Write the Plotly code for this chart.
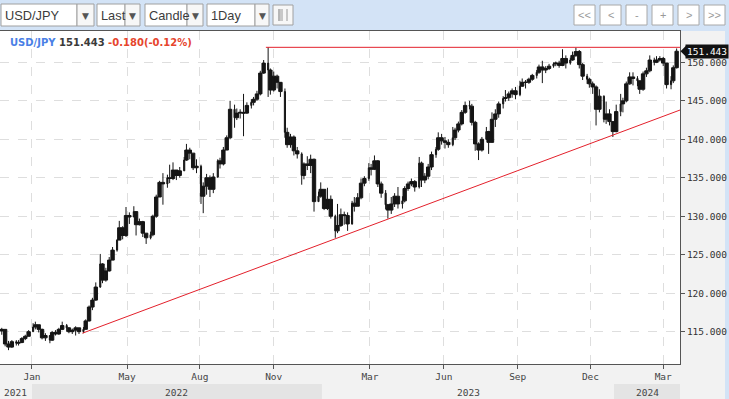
import pandas as pd
import plotly.graph_objects as go

# ---------------- data ----------------
start_date = "2021-11-25"          # first candle, one candle every 3 business days
first_open = 115.1
closes = [
    115.3, 113.4, 113.0, 113.7, 113.5, 113.6, 114.1, 114.4, 115.0,
    115.6, 115.9, 115.3, 114.2, 114.5, 113.9, 114.9,
    114.7, 115.3, 115.8, 115.5, 115.0, 115.2, 115.5,
    115.0, 115.3, 116.4, 118.2, 119.1, 120.8, 123.8,
    121.7, 122.9, 124.3, 125.6, 126.9, 128.5, 127.5,
    130.1, 129.9, 130.6, 128.9, 129.3, 127.8, 127.2, 127.6,
    130.0, 132.5, 134.4, 134.2, 135.0, 134.9, 136.0,
    135.3, 135.9, 137.3, 138.6, 138.2, 136.3, 136.5,
    132.6, 133.9, 135.0, 133.5, 135.1, 137.2, 136.8, 138.6,
    140.2, 143.9, 142.8, 143.4, 143.5, 143.4, 144.4,
    144.8, 145.2, 145.9, 148.6, 149.9, 149.0, 146.4,
    148.2, 147.4, 146.2, 140.9, 139.3, 140.3, 138.5, 138.1,
    135.3, 136.8, 136.6, 137.4, 131.9, 132.6, 133.5,
    131.0, 132.2, 130.0, 128.1, 128.8, 130.2, 130.1,
    129.0, 131.7, 131.3, 132.4, 134.3, 134.9, 136.3,
    136.1, 137.2, 134.2, 133.0, 131.5, 130.8, 131.6, 132.6,
    131.6, 132.0, 133.6, 134.2, 134.5, 133.8,
    136.9, 134.7, 135.2, 136.4, 138.0, 138.7, 140.2, 139.8,
    139.6, 139.3, 140.2, 141.2, 142.0, 143.5, 144.4,
    144.3, 142.2, 139.4, 138.6, 140.0, 141.0, 139.6,
    142.6, 143.3, 144.6, 145.3, 145.4, 145.9, 146.3, 145.8,
    146.9, 147.4, 147.4, 147.8, 148.3, 148.7, 149.4,
    149.0, 149.2, 149.5, 149.8, 149.9, 149.6, 150.5,
    149.9, 150.3, 150.9, 151.4, 149.7, 148.2, 147.8, 147.2,
    146.8, 143.9, 145.6, 142.6, 143.3, 142.3, 141.0,
    143.6, 144.6, 145.0, 147.2, 148.1, 147.9, 147.6,
    146.5, 148.5, 148.9, 150.3, 150.0, 150.3, 150.5,
    149.9, 147.1, 147.6, 149.3, 151.443,
]
highs = [
    115.5, 115.3, 113.8, 113.9, 113.9, 113.9, 114.3, 114.6, 115.2,
    116.1, 116.3, 115.9, 115.4, 114.8, 114.3, 115.1,
    115.2, 115.5, 116.3, 116.0, 115.6, 115.4, 115.7,
    115.5, 115.6, 116.6, 118.4, 119.4, 121.4, 125.1,
    123.9, 123.3, 124.7, 126.0, 127.0, 129.4, 128.7,
    131.2, 130.5, 131.3, 130.6, 129.7, 129.4, 127.8, 128.0,
    130.2, 132.8, 134.6, 135.6, 135.4, 136.7, 137.0,
    136.0, 136.4, 137.7, 139.4, 138.9, 138.2, 137.4,
    136.7, 134.4, 135.5, 135.3, 135.6, 137.4, 137.6, 139.0,
    140.5, 145.0, 144.5, 144.0, 143.9, 145.9, 144.8,
    145.2, 145.5, 146.3, 148.9, 150.3, 151.95, 149.2,
    148.8, 148.4, 147.3, 146.6, 141.5, 140.7, 140.5, 139.0,
    138.3, 137.0, 137.8, 138.0, 137.5, 133.2, 134.4,
    133.5, 133.7, 132.7, 130.2, 131.6, 131.0, 130.6,
    130.5, 132.0, 132.5, 133.0, 134.9, 135.2, 136.9,
    136.8, 137.9, 137.3, 134.5, 133.4, 131.6, 132.5, 133.0,
    133.8, 132.6, 133.9, 134.5, 134.9, 134.7,
    137.7, 137.1, 135.6, 136.8, 138.4, 139.0, 140.9, 140.7,
    140.3, 140.0, 141.6, 141.5, 142.3, 143.8, 144.9,
    145.0, 144.6, 142.4, 139.6, 140.3, 141.6, 141.1,
    143.5, 143.9, 144.9, 145.6, 146.4, 146.2, 146.6, 146.8,
    147.6, 147.9, 147.7, 148.0, 148.5, 149.0, 149.7,
    150.2, 149.5, 149.8, 150.0, 150.1, 150.2, 151.7,
    150.9, 150.6, 151.4, 151.9, 151.6, 149.9, 148.5, 148.0,
    147.5, 147.0, 146.5, 145.7, 144.9, 143.9, 142.3,
    144.5, 145.9, 145.4, 147.5, 148.7, 148.7, 148.2,
    147.3, 148.8, 149.3, 150.9, 150.6, 150.8, 150.8,
    150.7, 149.9, 148.2, 149.6, 151.8,
]
lows = [
    114.6, 113.1, 112.6, 112.9, 113.2, 113.2, 113.5, 113.9, 114.4,
    115.0, 115.3, 114.9, 114.0, 113.8, 113.5, 113.8,
    114.5, 114.6, 115.2, 115.0, 114.8, 114.7, 114.5,
    114.7, 114.8, 115.3, 116.3, 117.8, 119.0, 120.7,
    121.3, 121.5, 122.8, 124.3, 125.4, 126.9, 127.0,
    127.3, 129.0, 129.9, 127.5, 128.8, 127.3, 126.4, 127.0,
    127.4, 129.8, 132.5, 131.5, 133.7, 134.3, 134.7,
    134.7, 135.0, 135.9, 137.2, 137.4, 136.0, 135.6,
    131.6, 130.4, 132.8, 132.5, 133.0, 135.0, 136.2, 136.6,
    138.6, 140.0, 141.5, 142.5, 142.7, 140.4, 143.3,
    144.0, 144.4, 145.0, 145.7, 148.5, 145.5, 145.8,
    146.2, 146.6, 145.5, 140.2, 138.9, 138.9, 137.9, 137.5,
    134.1, 134.8, 136.0, 135.6, 130.6, 131.9, 132.4,
    130.8, 130.8, 129.7, 127.2, 127.8, 128.6, 128.9,
    128.1, 128.9, 130.6, 131.3, 132.2, 133.9, 134.6,
    135.3, 136.0, 133.8, 132.4, 130.9, 129.7, 130.3, 131.2,
    131.0, 131.0, 131.8, 133.3, 133.9, 133.2,
    133.6, 133.8, 134.3, 134.8, 136.0, 137.6, 138.5, 139.3,
    138.8, 138.9, 139.1, 139.9, 140.9, 141.8, 143.3,
    143.9, 141.8, 138.5, 137.3, 138.4, 139.9, 138.1,
    141.5, 141.6, 142.8, 144.0, 144.9, 145.0, 145.4, 145.2,
    145.6, 146.8, 146.6, 147.2, 147.6, 147.9, 148.5,
    147.3, 148.6, 149.0, 149.3, 149.5, 149.3, 149.5,
    149.2, 149.7, 150.2, 150.7, 149.2, 147.7, 147.2, 146.7,
    145.9, 141.8, 143.5, 142.2, 142.0, 141.8, 140.3,
    140.9, 143.0, 143.5, 144.8, 147.1, 147.0, 146.9,
    145.9, 146.3, 148.1, 148.7, 149.6, 149.9, 150.1,
    149.5, 146.6, 146.5, 147.3, 149.2,
]

symbol = "USD/JPY"
last_price = 151.443
change_text = "-0.180(-0.12%)"

trend_dates = ["2022-03-07", "2024-03-22"]
trend_prices = [114.8, 143.8]
peak_dates = ["2022-10-21", "2024-03-22"]
peak_prices = [151.95, 151.95]

month_ticks = ["2022-01-03", "2022-05-02", "2022-08-01", "2022-11-01",
               "2023-03-01", "2023-06-01", "2023-09-01", "2023-12-01", "2024-03-01"]
month_labels = ["Jan", "May", "Aug", "Nov", "Mar", "Jun", "Sep", "Dec", "Mar"]
price_ticks = [115, 120, 125, 130, 135, 140, 145, 150]
price_labels = ["%.3f" % v for v in price_ticks]

year_labels = ["2021", "2022", "2023", "2024"]
year_label_dates = ["2021-12-13", "2022-07-01", "2023-07-03", "2024-02-12"]
year_band_starts = ["2022-01-01", "2024-01-01"]
year_band_ends = ["2023-01-01", "2024-03-22"]

x_range = ["2021-11-23 10:00", "2024-03-22"]
y_range = [110.8, 154.07]

toolbar_items = ["USD/JPY", "Last", "Candle", "1Day"]
nav_buttons = ["<<", "<", "-", "+", ">", ">>"]

# ---------------- figure ----------------
W, H = 729, 399
ML, MR, MT, MB = 0, 49, 31, 35
PW, PH = W - ML - MR, H - MT - MB


def px(x):
    return (x - ML) / PW


def py(y):
    return (H - MB - y) / PH


dates = pd.bdate_range(start_date, periods=len(closes), freq="3B")
opens = [first_open] + closes[:-1]

fig = go.Figure()
fig.add_trace(go.Candlestick(
    x=dates, open=opens, high=highs, low=lows, close=closes,
    increasing=dict(line=dict(color="#151515", width=1), fillcolor="#151515"),
    decreasing=dict(line=dict(color="#151515", width=1), fillcolor="#151515"),
    showlegend=False, hoverinfo="skip",
))
fig.add_trace(go.Scatter(x=trend_dates, y=trend_prices, mode="lines",
                         line=dict(color="#e3202b", width=1), showlegend=False, hoverinfo="skip"))
fig.add_trace(go.Scatter(x=peak_dates, y=peak_prices, mode="lines",
                         line=dict(color="#e3202b", width=1), showlegend=False, hoverinfo="skip"))

shapes = []
annotations = []
mono = "DejaVu Sans Mono"
sans = "Liberation Sans, Arial"

# toolbar background
shapes.append(dict(type="rect", xref="paper", yref="paper", x0=px(0), x1=px(W), y0=py(31), y1=py(0),
                   fillcolor="#d3e3f6", line=dict(width=0), layer="below"))
# right blue strip
shapes.append(dict(type="rect", xref="paper", yref="paper", x0=px(725), x1=px(W), y0=py(H), y1=py(0),
                   fillcolor="#d3e3f6", line=dict(width=0), layer="below"))

# dropdowns: (text_x0, split, arrow_x1)
boxes = [(1, 77, 94), (97, 125, 140), (145, 187, 203), (207, 255, 269)]
for label, (bx0, bsplit, bx1) in zip(toolbar_items, boxes):
    shapes.append(dict(type="rect", xref="paper", yref="paper", x0=px(bx0), x1=px(bsplit),
                       y0=py(26), y1=py(4), fillcolor="white", line=dict(color="#a0a0a0", width=1)))
    shapes.append(dict(type="rect", xref="paper", yref="paper", x0=px(bsplit), x1=px(bx1),
                       y0=py(26), y1=py(4), fillcolor="#f7f7f7", line=dict(color="#a0a0a0", width=1)))
    annotations.append(dict(text=label, xref="paper", yref="paper", x=px(bx0 + 1.5), y=py(15.5),
                            xanchor="left", yanchor="middle", showarrow=False,
                            font=dict(family=sans, size=12.8, color="#3c3c3c")))
    annotations.append(dict(text="▼", xref="paper", yref="paper", x=px((bsplit + bx1) / 2), y=py(15.5),
                            xanchor="center", yanchor="middle", showarrow=False,
                            font=dict(family="DejaVu Sans", size=9, color="#555")))
# list icon button
shapes.append(dict(type="rect", xref="paper", yref="paper", x0=px(273), x1=px(293), y0=py(25), y1=py(5),
                   fillcolor="#f7f7f7", line=dict(color="#a0a0a0", width=1)))
shapes.append(dict(type="line", xref="paper", yref="paper", x0=px(279), x1=px(279), y0=py(21), y1=py(9),
                   line=dict(color="#777", width=1)))
for yy in [10, 12, 14, 16, 18, 20]:
    shapes.append(dict(type="line", xref="paper", yref="paper", x0=px(280), x1=px(288), y0=py(yy), y1=py(yy),
                       line=dict(color="#999", width=1, dash="dot")))

# navigation buttons
nav_x = [574, 600, 626, 652, 678, 704]
for label, nx in zip(nav_buttons, nav_x):
    shapes.append(dict(type="rect", xref="paper", yref="paper", x0=px(nx), x1=px(nx + 21), y0=py(25), y1=py(5),
                       fillcolor="white", line=dict(color="#a8a8a8", width=1)))
    annotations.append(dict(text=label, xref="paper", yref="paper", x=px(nx + 10.5), y=py(15),
                            xanchor="center", yanchor="middle", showarrow=False,
                            font=dict(family=sans, size=11, color="#999")))

# title
annotations.append(dict(
    text=("<b><span style='color:#4a7fe6'>%s</span> <span style='color:#3a3a3a'>%.3f</span> "
          "<span style='color:#e6452d'>%s</span></b>") % (symbol, last_price, change_text),
    xref="paper", yref="paper", x=px(8), y=py(42), xanchor="left", yanchor="middle",
    showarrow=False, font=dict(family="DejaVu Sans", size=10)))

# year band (bottom row)
for bs, be in zip(year_band_starts, year_band_ends):
    shapes.append(dict(type="rect", xref="x", yref="paper", x0=bs, x1=be, y0=py(H), y1=py(384),
                       fillcolor="#e4e4e4", line=dict(width=0), layer="below"))
for lab, d in zip(year_labels, year_label_dates):
    annotations.append(dict(text=lab, xref="x", yref="paper", x=d, y=py(392), xanchor="center",
                            yanchor="middle", showarrow=False, font=dict(family=mono, size=9.5, color="#444")))

# last price marker
annotations.append(dict(text="%.3f" % last_price, xref="paper", yref="y", x=px(685), y=last_price,
                        xanchor="left", yanchor="middle", showarrow=False, bgcolor="#111111",
                        borderpad=1, font=dict(family=mono, size=9.5, color="white")))
half = 5.5 / (PH / (y_range[1] - y_range[0]))
shapes.append(dict(type="path", xref="paper", yref="y",
                   path="M %f %f L %f %f L %f %f Z" % (px(680.5), last_price, px(686), last_price + half,
                                                      px(686), last_price - half),
                   fillcolor="#111111", line=dict(width=0)))

fig.update_layout(
    width=W, height=H,
    margin=dict(l=ML, r=MR, t=MT, b=MB, pad=0),
    paper_bgcolor="#f2f2f2", plot_bgcolor="white",
    showlegend=False, boxgap=0.0, boxgroupgap=0.0,
    shapes=shapes, annotations=annotations,
    xaxis=dict(
        type="date", range=x_range, rangeslider=dict(visible=False),
        rangebreaks=[dict(bounds=["sat", "mon"])],
        tickmode="array", tickvals=month_ticks, ticktext=month_labels,
        ticks="outside", ticklen=4, tickcolor="#555",
        tickfont=dict(family=mono, size=9.5, color="#444"),
        showgrid=True, gridcolor="#dedede", griddash="dash", gridwidth=1,
        showline=True, linecolor="#555", linewidth=1, mirror=True,
        zeroline=False, fixedrange=True,
    ),
    yaxis=dict(
        side="right", range=y_range,
        tickmode="array", tickvals=price_ticks, ticktext=price_labels,
        ticks="outside", ticklen=4, tickcolor="#555",
        tickfont=dict(family=mono, size=9.5, color="#333"),
        showgrid=True, gridcolor="#dedede", griddash="dash", gridwidth=1,
        showline=True, linecolor="#555", linewidth=1, mirror=True,
        zeroline=False, fixedrange=True,
    ),
)

fig.write_html("out.html", config={"displayModeBar": False},
               post_script="document.body.style.margin='0';document.body.style.overflow='hidden';")
